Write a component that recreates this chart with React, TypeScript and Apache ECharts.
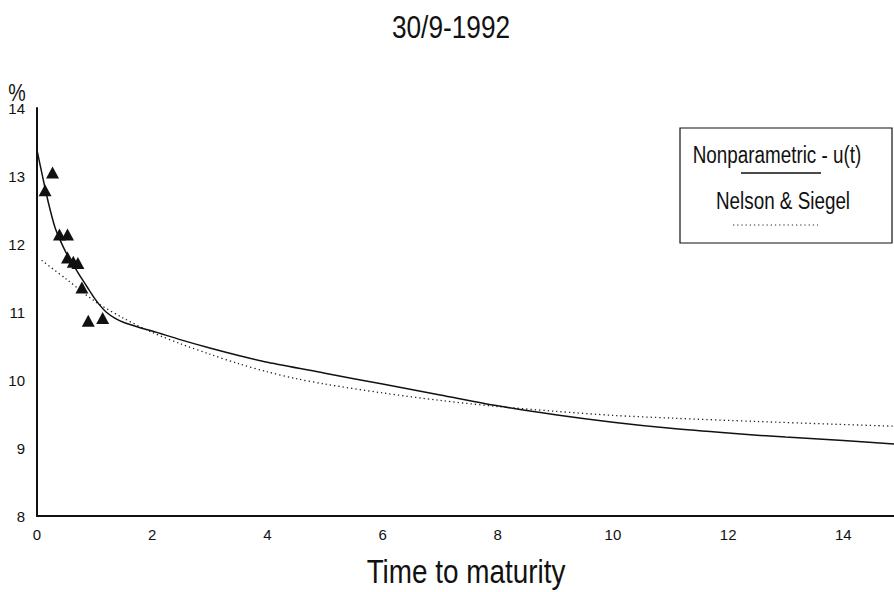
import React, { useEffect, useRef } from "react";
import * as echarts from "echarts";

const FONT = "'Liberation Sans', Arial, Helvetica, sans-serif";
const NARROW = 0.82;

const titleText = "30/9-1992";
const xAxisName = "Time to maturity";
const yAxisName = "%";
const legendNames = ["Nonparametric - u(t)", "Nelson & Siegel"];

// Observed yields (triangles)
const obsX = [0.14, 0.27, 0.39, 0.53, 0.53, 0.63, 0.71, 0.78, 0.89, 1.14];
const obsY = [12.79, 13.05, 12.14, 12.14, 11.8, 11.74, 11.72, 11.36, 10.87, 10.91];

// Nonparametric curve
const npX = [0.0, 0.11, 0.2, 0.31, 0.4, 0.5, 0.6, 0.69, 0.8, 0.9, 1.0, 1.1, 1.2, 1.35, 1.5, 1.75, 2.0, 2.5, 3.0, 3.5, 4.0, 5.0, 6.0, 7.0, 8.0, 9.0, 10.0, 11.0, 12.0, 13.0, 14.0, 14.88];
const npY = [13.38, 12.94, 12.6, 12.25, 12.06, 11.88, 11.74, 11.61, 11.46, 11.33, 11.2, 11.09, 11.0, 10.91, 10.85, 10.78, 10.72, 10.59, 10.47, 10.36, 10.26, 10.1, 9.94, 9.78, 9.62, 9.49, 9.38, 9.29, 9.22, 9.16, 9.11, 9.06];

// Nelson & Siegel curve
const nsX = [0.08, 0.5, 1.0, 1.5, 2.0, 2.5, 3.0, 3.5, 4.0, 4.5, 5.0, 6.0, 7.0, 8.0, 9.0, 10.0, 11.0, 12.5, 14.88];
const nsY = [11.76, 11.49, 11.16, 10.91, 10.7, 10.53, 10.38, 10.24, 10.12, 10.02, 9.94, 9.81, 9.7, 9.61, 9.54, 9.48, 9.44, 9.39, 9.32];

const xMin = 0;
const xMax = 14.88;
const xInterval = 2;
const yMin = 8;
const yMax = 14;
const yInterval = 1;

export default function App() {
  const ref = useRef<HTMLDivElement>(null);
  useEffect(() => {
    document.body.style.margin = "0";
    if (!ref.current) return;
    const chart = echarts.init(ref.current, undefined, { renderer: "svg" });
    const zip = (xs: number[], ys: number[]) => xs.map((x, i) => [x, ys[i]]);
    const narrowText = (text: string, x: number, y: number, size: number, z = 11) => ({
      type: "text",
      x,
      y,
      z,
      scaleX: NARROW,
      style: { text, fontFamily: FONT, fontSize: size, fill: "#111", align: "center", verticalAlign: "middle" },
    });
    chart.setOption({
      animation: false,
      backgroundColor: "#fff",
      grid: { left: 37, right: 0, top: 108, bottom: 76 },
      xAxis: {
        type: "value",
        min: xMin,
        max: xMax,
        interval: xInterval,
        axisLine: { show: true, onZero: false, lineStyle: { color: "#111", width: 2 } },
        axisTick: { show: false },
        splitLine: { show: false },
        axisLabel: { fontFamily: FONT, fontSize: 15, color: "#111", margin: 11, showMaxLabel: false },
      },
      yAxis: {
        type: "value",
        min: yMin,
        max: yMax,
        interval: yInterval,
        axisLine: { show: true, lineStyle: { color: "#111", width: 2 } },
        axisTick: { show: false },
        splitLine: { show: false },
        axisLabel: { fontFamily: FONT, fontSize: 15, color: "#111", margin: 12 },
      },
      series: [
        {
          name: legendNames[0],
          type: "line",
          data: zip(npX, npY),
          showSymbol: false,
          smooth: 0.3,
          lineStyle: { color: "#111", width: 1.5, type: "solid" },
          z: 3,
        },
        {
          name: legendNames[1],
          type: "line",
          data: zip(nsX, nsY),
          showSymbol: false,
          smooth: 0.3,
          lineStyle: { color: "#222", width: 1.3, type: [1.3, 3] },
          z: 2,
        },
        {
          name: "Observed",
          type: "scatter",
          data: zip(obsX, obsY),
          symbol: "triangle",
          symbolSize: [13, 12],
          itemStyle: { color: "#111", opacity: 1 },
          z: 4,
        },
      ],
      graphic: [
        narrowText(titleText, 451, 27, 32),
        narrowText(xAxisName, 466, 572, 34),
        narrowText(yAxisName, 17, 93, 24),
        {
          type: "rect",
          shape: { x: 680, y: 128, width: 212, height: 115 },
          style: { fill: "#fff", stroke: "#111", lineWidth: 1.2 },
          z: 10,
        },
        narrowText(legendNames[0], 777, 155, 23),
        {
          type: "line",
          z: 11,
          shape: { x1: 741, y1: 173, x2: 821, y2: 173 },
          style: { stroke: "#111", lineWidth: 1.5 },
        },
        narrowText(legendNames[1], 783, 201, 23),
        {
          type: "line",
          z: 11,
          shape: { x1: 733, y1: 225, x2: 818, y2: 225 },
          style: { stroke: "#222", lineWidth: 1.2, lineDash: [1.2, 3] },
        },
      ],
    });
    return () => chart.dispose();
  }, []);
  return <div ref={ref} style={{ width: 894, height: 592 }} />;
}
